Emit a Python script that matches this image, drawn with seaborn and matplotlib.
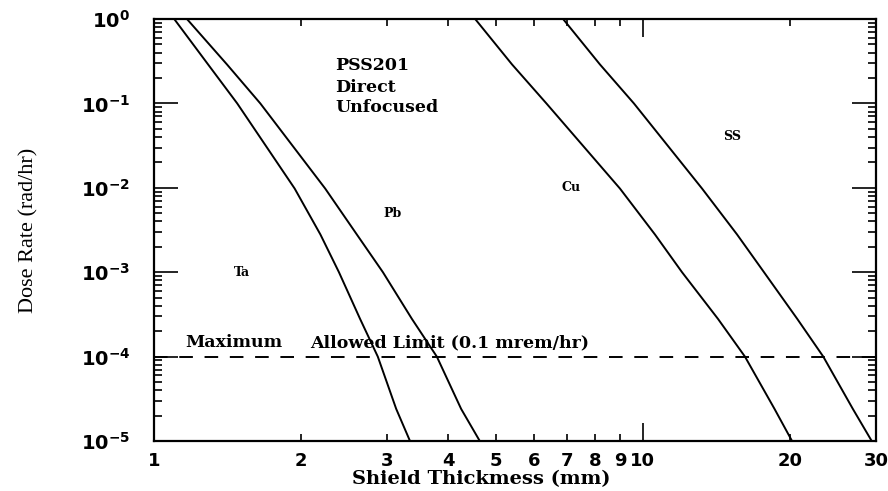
import numpy as np
import pandas as pd
import matplotlib
matplotlib.use("Agg")
import matplotlib.pyplot as plt
import seaborn as sns
from matplotlib.ticker import LogLocator, NullFormatter, FixedLocator, FixedFormatter

# dose rate levels (rad/hr) and shield thickness (mm)
dose = [1.0, 0.29, 0.1, 0.0098, 0.0028, 1e-3, 2.8e-4, 1e-4, 2.4e-5, 1e-5]
ta = [1.10, 1.29, 1.48, 1.94, 2.19, 2.39, 2.64, 2.87, 3.13, 3.34]
pb = [1.168, 1.41, 1.65, 2.24, 2.60, 2.94, 3.37, 3.79, 4.25, 4.64]
cu = [4.54, 5.40, 6.35, 8.98, 10.59, 12.03, 14.25, 16.18, 18.6, 20.2]
ss = [6.87, 8.17, 9.59, 13.22, 15.59, 17.7, 20.7, 23.4, 26.9, 29.4]

limit = 1e-4
x_major = [1, 10]
x_major_labels = ["1", "10"]
x_minor = [2, 3, 4, 5, 6, 7, 8, 9, 20, 30]
x_minor_labels = ["2", "3", "4", "5", "6", "7", "8", "9", "20", "30"]
y_ticks = [1, 1e-1, 1e-2, 1e-3, 1e-4, 1e-5]
y_ticklabels = [r"$\mathbf{10^{0}}$", r"$\mathbf{10^{-1}}$", r"$\mathbf{10^{-2}}$",
                r"$\mathbf{10^{-3}}$", r"$\mathbf{10^{-4}}$", r"$\mathbf{10^{-5}}$"]

df = pd.concat([
    pd.DataFrame({"thick": ta, "dose": dose, "mat": "Ta"}),
    pd.DataFrame({"thick": pb, "dose": dose, "mat": "Pb"}),
    pd.DataFrame({"thick": cu, "dose": dose, "mat": "Cu"}),
    pd.DataFrame({"thick": ss, "dose": dose, "mat": "SS"}),
])

sns.set_style("ticks")
plt.rcParams["mathtext.fontset"] = "dejavusans"
plt.rcParams["text.color"] = "black"
plt.rcParams["axes.labelcolor"] = "black"
plt.rcParams["xtick.color"] = "black"
plt.rcParams["ytick.color"] = "black"

fig = plt.figure(figsize=(8.88, 4.91), dpi=100)
ax = fig.add_axes([0.1734, 0.1018, 0.8131, 0.8595])

sns.lineplot(data=df, x="thick", y="dose", units="mat", estimator=None,
             color="black", linewidth=1.4, ax=ax, legend=False)
ax.axhline(limit, color="black", linewidth=1.4, linestyle=(0, (7, 6)))

ax.set_xscale("log")
ax.set_yscale("log")
ax.set_xlim(1, 30)
ax.set_ylim(1e-5, 1)

# x: 1 and 10 get the long ticks, the rest short ones, all labelled
ax.xaxis.set_major_locator(FixedLocator(x_major))
ax.xaxis.set_major_formatter(FixedFormatter(x_major_labels))
ax.xaxis.set_minor_locator(FixedLocator(x_minor))
ax.xaxis.set_minor_formatter(FixedFormatter(x_minor_labels))
for lab in ax.get_xticklabels(which="both"):
    lab.set_fontsize(13)
    lab.set_fontweight("bold")

ax.set_yticks(y_ticks)
ax.set_yticklabels(y_ticklabels, fontsize=14)
ax.yaxis.set_minor_locator(LogLocator(base=10, subs=np.arange(2, 10)))
ax.yaxis.set_minor_formatter(NullFormatter())

ax.tick_params(axis="both", which="both", direction="in", top=True, right=True,
               color="black", labelcolor="black")
ax.tick_params(axis="y", which="major", length=17, width=1.2, pad=17)
ax.tick_params(axis="y", which="minor", length=6, width=1.2)
ax.tick_params(axis="x", which="major", length=13, width=1.2, pad=8)
ax.tick_params(axis="x", which="minor", length=5, width=1.2, pad=8,
               labelsize=13)
for sp in ax.spines.values():
    sp.set_linewidth(1.6)
    sp.set_color("black")

ax.set_xlabel("Shield Thickmess (mm)", fontsize=14, fontweight="bold",
              family="DejaVu Serif")
ax.xaxis.set_label_coords(0.453, -0.068)
ax.set_ylabel("Dose Rate (rad/hr)", fontsize=16, family="Liberation Serif")
ax.yaxis.set_label_coords(-0.16, 0.5)

txt = dict(fontsize=12.5, fontweight="bold", family="DejaVu Serif", color="black")
ax.text(2.35, 0.285, "PSS201", va="center", **txt)
ax.text(2.35, 0.156, "Direct", va="center", **txt)
ax.text(2.35, 0.0905, "Unfocused", va="center", **txt)
small = dict(fontsize=9, fontweight="bold", family="DejaVu Serif", color="black")
ax.text(1.51, 1e-3, "Ta", va="center", ha="center", **small)
ax.text(3.07, 4.9e-3, "Pb", va="center", ha="center", **small)
ax.text(7.14, 1e-2, "Cu", va="center", ha="center", **small)
ax.text(15.2, 4.0e-2, "SS", va="center", ha="center", **small)
ax.text(1.16, 1.45e-4, "Maximum", va="center", **txt)
ax.text(2.09, 1.45e-4, "Allowed Limit (0.1 mrem/hr)", va="center", **txt)

fig.savefig("out.png", dpi=100)
